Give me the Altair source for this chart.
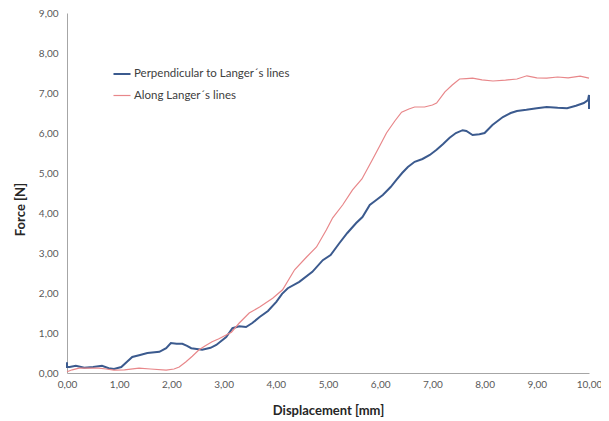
import altair as alt
import pandas as pd

perp_x = [0, 0, 0.05, 0.17, 0.33, 0.5, 0.67, 0.8, 0.9, 1.04, 1.15, 1.25, 1.4, 1.54, 1.77, 1.9, 1.99, 2.1, 2.21, 2.3,
          2.38, 2.59, 2.75, 2.86, 3.05, 3.17, 3.3, 3.43, 3.55, 3.69, 3.85, 4.01, 4.12, 4.23, 4.45, 4.7, 4.9, 5.05,
          5.22, 5.37, 5.54, 5.66, 5.8, 5.9, 6.05, 6.2, 6.31, 6.42, 6.53, 6.66, 6.81, 6.95, 7.08, 7.2, 7.33, 7.45,
          7.58, 7.65, 7.77, 7.9, 8.0, 8.15, 8.35, 8.5, 8.62, 8.8, 9.0, 9.19, 9.4, 9.58, 9.75, 9.9, 9.98, 10.0, 10.0, 10.0]
perp_y = [0.27, 0.15, 0.15, 0.18, 0.13, 0.15, 0.18, 0.12, 0.10, 0.15, 0.28, 0.40, 0.45, 0.50, 0.53, 0.62, 0.75, 0.73,
          0.73, 0.68, 0.62, 0.58, 0.63, 0.70, 0.90, 1.12, 1.17, 1.15, 1.25, 1.40, 1.55, 1.78, 1.98, 2.12, 2.28, 2.53,
          2.82, 2.95, 3.25, 3.5, 3.75, 3.9, 4.2, 4.3, 4.45, 4.65, 4.83, 5.0, 5.15, 5.28, 5.35, 5.45, 5.58, 5.72, 5.88,
          6.0, 6.07, 6.05, 5.95, 5.97, 6.0, 6.2, 6.4, 6.5, 6.55, 6.58, 6.62, 6.65, 6.63, 6.62, 6.68, 6.75, 6.82, 6.95,
          6.6, 6.85]

along_x = [0, 0.1, 0.23, 0.4, 0.61, 0.75, 0.9, 1.1, 1.38, 1.6, 1.9, 2.05, 2.15, 2.28, 2.4, 2.53, 2.65, 2.78, 2.9,
           3.05, 3.15, 3.3, 3.49, 3.69, 3.94, 4.13, 4.36, 4.59, 4.78, 4.97, 5.09, 5.28, 5.47, 5.65, 5.85, 6.0, 6.12,
           6.28, 6.41, 6.55, 6.66, 6.85, 7.0, 7.08, 7.24, 7.38, 7.52, 7.65, 7.77, 7.95, 8.16, 8.4, 8.62, 8.81, 9.0,
           9.19, 9.4, 9.6, 9.83, 10.0]
along_y = [0.03, 0.08, 0.12, 0.12, 0.12, 0.1, 0.07, 0.08, 0.12, 0.1, 0.07, 0.1, 0.15, 0.28, 0.42, 0.58, 0.68, 0.78,
           0.85, 0.95, 1.02, 1.25, 1.5, 1.65, 1.87, 2.08, 2.58, 2.9, 3.15, 3.58, 3.88, 4.2, 4.58, 4.85, 5.33, 5.7,
           6.0, 6.3, 6.52, 6.6, 6.65, 6.65, 6.7, 6.75, 7.03, 7.2, 7.35, 7.36, 7.37, 7.33, 7.3, 7.32, 7.35, 7.43,
           7.38, 7.37, 7.4, 7.38, 7.42, 7.37]

series_names = ["Perpendicular to Langer´s lines", "Along Langer´s  lines"]
series_colors = ["#3b5a8e", "#e8878a"]

rows = []
for i, (x, y) in enumerate(zip(perp_x, perp_y)):
    rows.append({"x": x, "y": y, "s": series_names[0], "i": i})
for i, (x, y) in enumerate(zip(along_x, along_y)):
    rows.append({"x": x, "y": y, "s": series_names[1], "i": i})
df = pd.DataFrame(rows)

fmt = "replace(format(datum.value, '.2f'), '.', ',')"
font = "Lato"

chart = alt.Chart(df).mark_line().encode(
    x=alt.X("x:Q", scale=alt.Scale(domain=[0, 10], nice=False),
            axis=alt.Axis(title="Displacement [mm]", values=list(range(11)), labelExpr=fmt,
                          ticks=False, grid=False, labelPadding=6, labelFlush=False,
                          titleY=37, titleBaseline="middle")),
    y=alt.Y("y:Q", scale=alt.Scale(domain=[0, 9], nice=False),
            axis=alt.Axis(title="Force [N]", values=list(range(10)), labelExpr=fmt,
                          ticks=False, grid=False, labelPadding=9, labelFlush=False,
                          titleX=-47, titleY=196, titleBaseline="middle")),
    color=alt.Color("s:N", scale=alt.Scale(domain=series_names, range=series_colors),
                    legend=alt.Legend(title=None, orient="none", legendX=45, legendY=51,
                                      symbolType="stroke", symbolSize=290, symbolStrokeWidth=2,
                                      labelFontSize=11.5, labelColor="#404040", labelFont=font,
                                      labelLimit=400, rowPadding=6, labelOffset=2)),
    strokeWidth=alt.StrokeWidth("s:N", scale=alt.Scale(domain=series_names, range=[2, 1.2]), legend=None),
    order="i:Q",
).properties(
    width=522, height=360,
    autosize=alt.AutoSizeParams(type="none"),
    padding={"left": 59, "top": 5, "right": 12, "bottom": 48},
).configure_view(stroke=None).configure_axis(
    domainColor="#a6a6a6", labelColor="#595959", labelFont=font, labelFontSize=10,
    titleFont=font, titleFontSize=13, titleFontWeight="bold", titleColor="#262626",
)

chart.save("out.html", embed_options={"renderer": "svg", "actions": False})
